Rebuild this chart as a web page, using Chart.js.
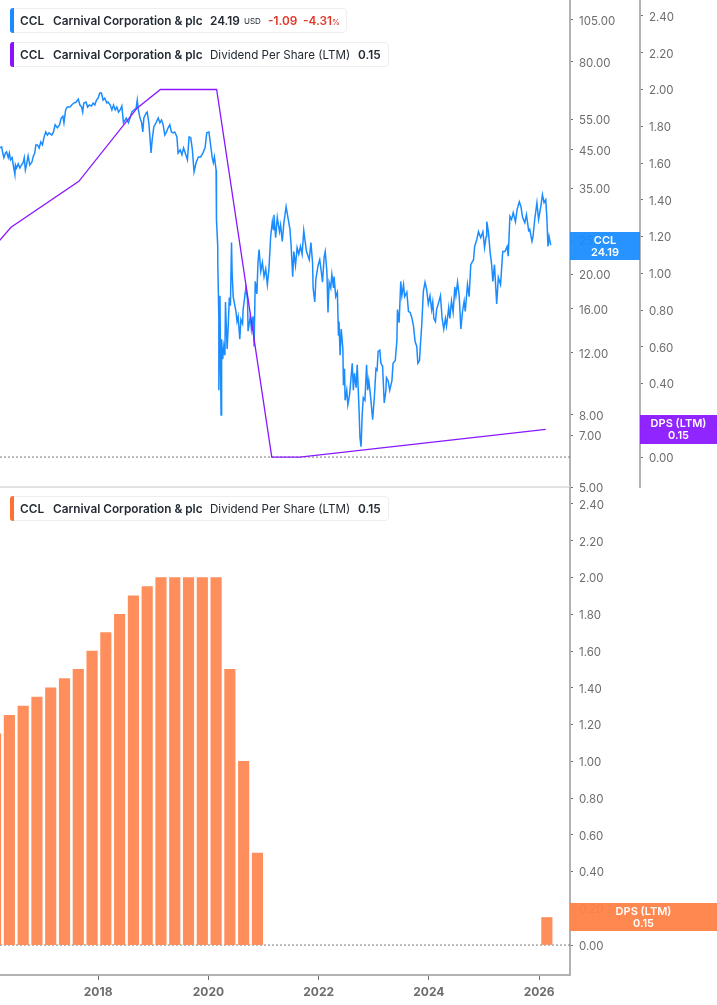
<!DOCTYPE html>
<html>
<head>
<meta charset="utf-8">
<title>CCL Dividend Per Share (LTM)</title>
<script src="https://cdn.jsdelivr.net/npm/chart.js@4/dist/chart.umd.min.js"></script>
<style>
    html, body { margin: 0; padding: 0; background: #fff; }
    #page { position: relative; width: 717px; height: 1005px; overflow: hidden; font-family: Inter, sans-serif; }
    canvas { position: absolute; left: 0; }
    #topChart { top: 0; }
    #bottomChart { top: 487px; }
    .divider { position: absolute; left: 0; top: 486px; width: 570px; height: 2px; background: #e2e2e2; }

    .legend { position: absolute; left: 10px; height: 25px; box-sizing: border-box; background: #fff; border: 1px solid #eeeeee; border-radius: 4px; font-size: 11.8px; line-height: 25px; color: #232a33; white-space: nowrap; }
    .legend i { position: absolute; left: -1px; top: -1px; width: 4px; height: 25px; border-radius: 3px 0 0 3px; }
    .legend span { position: absolute; top: 0; font-weight: 600; }
    .legend .plain { font-weight: 400; font-size: 11.6px; }
    .legend .down { color: #e0382c; }
    .legend small { font-size: 8px; font-weight: 400; }

    .tag { position: absolute; color: #fff; font-size: 11px; font-weight: 600; line-height: 12px; text-align: center; box-sizing: border-box; padding-top: 2px; }
</style>
</head>
<body>
<div id="page">
    <canvas id="topChart" width="717" height="500"></canvas>
    <div class="divider"></div>
    <canvas id="bottomChart" width="717" height="518"></canvas>

    <div class="legend" style="top:8px;width:337px">
        <i style="background:#1a8cff"></i>
        <span style="left:9px">CCL</span><span style="left:42px">Carnival Corporation &amp; plc</span>
        <span style="left:199px">24.19</span><span class="plain" style="left:233px;font-size:8px">USD</span>
        <span class="down" style="left:257px">-1.09</span><span class="down" style="left:292px">-4.31<small>%</small></span>
    </div>
    <div class="legend" style="top:42px;width:379px">
        <i style="background:#8a12ff"></i>
        <span style="left:9px">CCL</span><span style="left:42px">Carnival Corporation &amp; plc</span>
        <span class="plain" style="left:199px">Dividend Per Share (LTM)</span><span style="left:347px">0.15</span>
    </div>
    <div class="legend" style="top:496px;width:379px">
        <i style="background:#ff7033"></i>
        <span style="left:9px">CCL</span><span style="left:42px">Carnival Corporation &amp; plc</span>
        <span class="plain" style="left:199px">Dividend Per Share (LTM)</span><span style="left:347px">0.15</span>
    </div>

    <div class="tag" style="left:570px;top:232px;width:70px;height:28px;background:rgba(26,140,255,0.94)">CCL<br>24.19</div>
    <div class="tag" style="left:640px;top:415px;width:77px;height:29px;background:rgba(138,23,255,0.94)">DPS (LTM)<br>0.15</div>
    <div class="tag" style="left:570px;top:903px;width:147px;height:28px;background:rgba(255,127,69,0.94)">DPS (LTM)<br>0.15</div>
</div>

<script>
// --- Data ---

// Share price, years as decimals. Each line of years matches a line of values.
const priceYears = [
    2016.22, 2016.25, 2016.27, 2016.29, 2016.32, 2016.34, 2016.37, 2016.39, 2016.41, 2016.44, 2016.46, 2016.49, 2016.50, 2016.52, 2016.55, 2016.58, 2016.61, 2016.64, 2016.66, 2016.68,
    2016.70, 2016.73, 2016.76, 2016.80, 2016.82, 2016.85, 2016.87, 2016.90, 2016.93, 2016.96, 2016.99, 2017.02, 2017.05, 2017.08, 2017.11, 2017.16, 2017.19, 2017.22, 2017.26, 2017.30,
    2017.33, 2017.36, 2017.38, 2017.41, 2017.44, 2017.49, 2017.52, 2017.56, 2017.60, 2017.64, 2017.67, 2017.70, 2017.72, 2017.74, 2017.78, 2017.81, 2017.84, 2017.88, 2017.91, 2017.94,
    2017.97, 2018.00, 2018.03, 2018.06, 2018.09, 2018.12, 2018.16, 2018.18, 2018.22, 2018.25, 2018.28, 2018.31, 2018.34, 2018.37, 2018.40, 2018.43, 2018.46, 2018.47, 2018.51, 2018.55,
    2018.58, 2018.61, 2018.65, 2018.69, 2018.71, 2018.73, 2018.76, 2018.79, 2018.81, 2018.83, 2018.87, 2018.89, 2018.92, 2018.94, 2018.96, 2018.98, 2019.01, 2019.05, 2019.09, 2019.12,
    2019.15, 2019.18, 2019.21, 2019.24, 2019.27, 2019.30, 2019.33, 2019.36, 2019.39, 2019.43, 2019.45, 2019.49, 2019.52, 2019.55, 2019.58, 2019.62, 2019.65, 2019.68, 2019.71, 2019.74,
    2019.78, 2019.82, 2019.86, 2019.90, 2019.94, 2019.97, 2020.01, 2020.04, 2020.07, 2020.09, 2020.11, 2020.14, 2020.14, 2020.15, 2020.15, 2020.17, 2020.17, 2020.19, 2020.19, 2020.21,
    2020.23, 2020.24, 2020.26, 2020.28, 2020.30, 2020.31, 2020.34, 2020.36, 2020.38, 2020.40, 2020.42, 2020.43, 2020.45, 2020.48, 2020.50, 2020.52, 2020.54, 2020.57, 2020.59, 2020.62,
    2020.63, 2020.68, 2020.71, 2020.72, 2020.76, 2020.78, 2020.81, 2020.83, 2020.85, 2020.88, 2020.90, 2020.92, 2020.95, 2020.98, 2021.01, 2021.04, 2021.07, 2021.10, 2021.13, 2021.16,
    2021.18, 2021.19, 2021.22, 2021.25, 2021.29, 2021.31, 2021.34, 2021.37, 2021.41, 2021.44, 2021.48, 2021.50, 2021.53, 2021.55, 2021.58, 2021.61, 2021.64, 2021.67, 2021.70, 2021.73,
    2021.78, 2021.83, 2021.86, 2021.89, 2021.90, 2021.93, 2021.95, 2021.99, 2022.02, 2022.06, 2022.07, 2022.10, 2022.12, 2022.15, 2022.17, 2022.19, 2022.22, 2022.24, 2022.27, 2022.28,
    2022.31, 2022.34, 2022.36, 2022.37, 2022.39, 2022.41, 2022.44, 2022.45, 2022.47, 2022.48, 2022.51, 2022.53, 2022.56, 2022.58, 2022.61, 2022.63, 2022.65, 2022.68, 2022.70, 2022.73,
    2022.75, 2022.77, 2022.79, 2022.81, 2022.84, 2022.87, 2022.89, 2022.91, 2022.94, 2022.98, 2023.01, 2023.04, 2023.06, 2023.08, 2023.11, 2023.13, 2023.16, 2023.19, 2023.22, 2023.23,
    2023.26, 2023.29, 2023.33, 2023.35, 2023.39, 2023.42, 2023.43, 2023.46, 2023.49, 2023.51, 2023.54, 2023.56, 2023.60, 2023.63, 2023.66, 2023.69, 2023.72, 2023.75, 2023.78, 2023.80,
    2023.83, 2023.85, 2023.87, 2023.90, 2023.93, 2023.96, 2023.99, 2024.02, 2024.05, 2024.07, 2024.09, 2024.12, 2024.14, 2024.17, 2024.21, 2024.24, 2024.27, 2024.30, 2024.32, 2024.36,
    2024.38, 2024.41, 2024.44, 2024.47, 2024.49, 2024.52, 2024.55, 2024.58, 2024.61, 2024.64, 2024.66, 2024.70, 2024.73, 2024.76, 2024.81, 2024.83, 2024.87, 2024.90, 2024.94, 2024.98,
    2025.01, 2025.04, 2025.05, 2025.08, 2025.11, 2025.14, 2025.16, 2025.19, 2025.23, 2025.26, 2025.30, 2025.34, 2025.38, 2025.42, 2025.44, 2025.47, 2025.50, 2025.53, 2025.57, 2025.60,
    2025.64, 2025.67, 2025.70, 2025.74, 2025.77, 2025.81, 2025.83, 2025.87, 2025.89, 2025.92, 2025.96, 2025.99, 2026.03, 2026.06, 2026.09, 2026.12, 2026.14, 2026.16, 2026.18, 2026.21
];
const priceValues = [
    45.6, 45.9, 44.1, 42.8, 44.1, 44.4, 42.8, 44.1, 42.2, 42.8, 40.8, 38.3, 40.8, 40.0, 41.1, 40.0, 40.8, 41.4, 42.8, 39.5,
    40.8, 43.3, 40.8, 41.6, 43.0, 44.1, 46.5, 46.5, 45.6, 47.4, 46.5, 49.0, 50.6, 49.6, 50.3, 49.6, 50.6, 53.0, 52.0, 53.0,
    55.4, 56.1, 53.7, 58.4, 59.5, 59.5, 60.3, 61.1, 61.5, 62.7, 60.3, 59.5, 57.6, 61.1, 61.5, 59.5, 60.3, 59.9, 61.1, 60.3,
    62.3, 63.1, 65.2, 65.2, 62.3, 63.1, 61.1, 61.5, 60.3, 58.4, 60.3, 58.4, 59.5, 57.6, 58.4, 59.9, 53.7, 54.0, 55.4, 53.7,
    55.4, 57.6, 58.4, 59.1, 62.3, 58.4, 55.4, 53.7, 50.6, 55.4, 57.2, 57.6, 53.7, 49.0, 44.1, 48.0, 52.3, 53.7, 55.4, 53.7,
    54.7, 53.0, 49.6, 50.6, 52.0, 53.0, 50.6, 50.3, 50.6, 49.0, 44.1, 45.0, 43.6, 45.6, 44.1, 42.2, 49.0, 48.7, 45.0, 39.0,
    41.6, 43.0, 43.0, 44.1, 45.6, 50.3, 50.6, 46.5, 42.8, 41.4, 43.0, 39.5, 34.1, 32.5, 28.6, 24.0, 21.9, 14.9, 9.4, 17.4,
    8.0, 13.1, 11.5, 12.5, 11.8, 16.7, 12.3, 14.3, 17.2, 16.3, 24.6, 20.4, 17.3, 16.3, 15.7, 14.7, 15.2, 13.1, 14.9, 14.5,
    15.9, 18.3, 17.0, 13.8, 15.2, 14.0, 15.2, 12.5, 19.1, 17.6, 21.6, 23.5, 20.4, 21.6, 19.7, 20.7, 18.7, 20.9, 25.6, 28.2,
    26.8, 29.5, 25.4, 29.0, 26.4, 27.6, 24.8, 28.0, 31.1, 29.2, 26.8, 24.3, 19.7, 23.2, 21.2, 23.8, 22.8, 24.0, 22.8, 26.6,
    23.2, 22.0, 24.6, 21.6, 18.3, 16.7, 19.4, 21.2, 22.0, 19.7, 19.0, 22.4, 23.2, 20.3, 15.6, 19.0, 18.3, 20.0, 18.3, 19.7,
    17.3, 17.8, 13.4, 14.7, 11.8, 14.0, 12.3, 9.7, 10.8, 8.8, 9.4, 8.55, 9.1, 9.85, 11.2, 9.4, 10.5, 9.55, 11.1, 8.55,
    6.9, 6.5, 8.0, 8.95, 8.8, 11.1, 9.4, 10.0, 9.1, 7.75, 8.95, 10.8, 10.7, 12.1, 12.2, 11.2, 11.0, 8.65, 9.35, 10.2,
    10.0, 9.4, 10.0, 11.2, 11.4, 13.0, 15.9, 14.6, 19.1, 17.4, 18.7, 17.3, 17.8, 15.7, 15.6, 15.1, 14.3, 12.9, 12.5, 11.2,
    11.4, 12.9, 14.3, 17.9, 19.0, 18.1, 16.5, 17.4, 15.9, 16.7, 15.0, 14.7, 15.9, 16.5, 17.4, 15.0, 14.0, 15.0, 14.3, 16.1,
    15.0, 16.8, 15.6, 18.4, 17.4, 19.0, 17.4, 14.0, 15.7, 16.8, 15.7, 18.7, 17.3, 21.3, 22.0, 24.0, 25.1, 26.4, 25.4, 26.4,
    23.8, 25.6, 28.2, 26.4, 23.2, 21.2, 19.1, 21.3, 16.5, 19.6, 18.7, 23.2, 23.2, 24.0, 22.5, 29.2, 28.6, 29.9, 28.2, 30.5,
    32.1, 31.1, 29.0, 28.0, 29.5, 26.6, 26.8, 24.8, 25.6, 28.6, 31.9, 28.6, 31.1, 33.6, 31.9, 32.5, 29.0, 24.0, 25.6, 24.19
];

// Dividend per share line in the upper panel
const dpsLineYears = [2016.13, 2016.42, 2017.65, 2018.71, 2019.13, 2020.15, 2021.15, 2021.66, 2026.12];
const dpsLineValues = [1.15, 1.25, 1.50, 1.90, 2.00, 2.00, 0, 0, 0.15];

// Dividend per share bars in the lower panel, quarters with a payout only
const barYears = [
    2016.14, 2016.39, 2016.64, 2016.89, 2017.14, 2017.39, 2017.64, 2017.89, 2018.14, 2018.39,
    2018.64, 2018.89, 2019.14, 2019.39, 2019.64, 2019.89, 2020.14, 2020.39, 2020.64, 2020.89, 2026.14
];
const barValues = [
    1.15, 1.25, 1.30, 1.35, 1.40, 1.45, 1.50, 1.60, 1.70, 1.80,
    1.90, 1.95, 2.00, 2.00, 2.00, 2.00, 2.00, 1.50, 1.00, 0.50, 0.15
];

// Tick labels
const yearTicks = [2018, 2020, 2022, 2024, 2026];
const priceTicks = [5, 7, 8, 12, 16, 20, 25, 35, 45, 55, 80, 105];
const dpsTicks = [0, 0.2, 0.4, 0.6, 0.8, 1.0, 1.2, 1.4, 1.6, 1.8, 2.0, 2.2, 2.4];

// Visible window of the axes
const yearRange = [2016.22, 2026.56];
const priceRange = [5, 119.6];
const dpsRangeTop = [-0.163, 2.487];
const dpsRangeBottom = [-0.163, 2.4925];

// --- Helpers ---

const zip = (xs, ys) => xs.map((x, i) => ({ x: x, y: ys[i] }));

const AXIS_GREY = '#b2b2b2';
const TICK_GREY = '#6d6d6d';
const tickFont = { family: 'Inter', size: 11.5 };

function rightAxis(range, tickList, width, weight, type) {
    return {
        type: type,
        position: 'right',
        weight: weight,
        min: range[0],
        max: range[1],
        afterBuildTicks: (scale) => { scale.ticks = tickList.map(v => ({ value: v })); },
        afterFit: (scale) => {
            scale.width = width;
            // No room for half a tick label above and below the plot
            scale.paddingTop = 0;
            scale.paddingBottom = 0;
        },
        border: { color: AXIS_GREY, width: 2 },
        grid: { drawOnChartArea: false, color: TICK_GREY, tickLength: 3 },
        ticks: {
            color: TICK_GREY,
            font: tickFont,
            padding: 6,
            labelOffset: 1.5,
            autoSkip: false,
            maxRotation: 0,
            callback: (v) => Number(v).toFixed(2)
        }
    };
}

// Dotted zero line, reads off the dividend axis
function zeroLine(axisId) {
    return {
        type: 'line',
        data: zip(yearRange, [0, 0]),
        yAxisID: axisId,
        borderColor: '#7a7a7a',
        borderWidth: 1,
        borderDash: [2, 2],
        pointRadius: 0,
        order: 5
    };
}

// --- Upper panel: price and DPS line ---

new Chart(document.getElementById('topChart'), {
    type: 'line',
    data: {
        datasets: [
            {
                label: 'CCL',
                data: zip(priceYears, priceValues),
                yAxisID: 'price',
                borderColor: '#1a8cff',
                borderWidth: 1.5,
                pointRadius: 0,
                tension: 0,
                order: 2
            },
            {
                label: 'DPS (LTM)',
                data: zip(dpsLineYears, dpsLineValues),
                yAxisID: 'dps',
                borderColor: '#8a17ff',
                borderWidth: 1.3,
                pointRadius: 0,
                tension: 0,
                order: 1
            },
            zeroLine('dps')
        ]
    },
    options: {
        responsive: false,
        animation: false,
        // Canvas runs past the plot so the 5.00 label is not cut
        layout: { padding: { bottom: 13 } },
        plugins: { legend: { display: false }, tooltip: { enabled: false } },
        scales: {
            x: { type: 'linear', display: false, min: yearRange[0], max: yearRange[1] },
            price: rightAxis(priceRange, priceTicks, 70, 1, 'logarithmic'),
            dps: rightAxis(dpsRangeTop, dpsTicks, 77, 2, 'linear')
        }
    }
});

// --- Lower panel: DPS bars ---

new Chart(document.getElementById('bottomChart'), {
    type: 'bar',
    data: {
        datasets: [
            {
                label: 'DPS (LTM)',
                data: zip(barYears, barValues),
                yAxisID: 'dps',
                backgroundColor: '#fe8f5c',
                barThickness: 10.5,
                order: 1
            },
            zeroLine('dps')
        ]
    },
    options: {
        responsive: false,
        animation: false,
        layout: { padding: 0 },
        plugins: { legend: { display: false }, tooltip: { enabled: false } },
        scales: {
            x: {
                type: 'linear',
                offset: false,
                min: yearRange[0],
                max: yearRange[1],
                afterBuildTicks: (scale) => { scale.ticks = yearTicks.map(v => ({ value: v })); },
                afterFit: (scale) => { scale.height = 30; },
                border: { color: AXIS_GREY, width: 2 },
                grid: { drawOnChartArea: false, color: TICK_GREY, tickLength: 5, offset: false },
                ticks: {
                    color: TICK_GREY,
                    font: { family: 'Inter', size: 12, weight: '700' },
                    padding: 5,
                    autoSkip: false,
                    maxRotation: 0,
                    callback: (v) => String(v)
                }
            },
            dps: rightAxis(dpsRangeBottom, dpsTicks, 147, 1, 'linear')
        }
    }
});
</script>
</body>
</html>
